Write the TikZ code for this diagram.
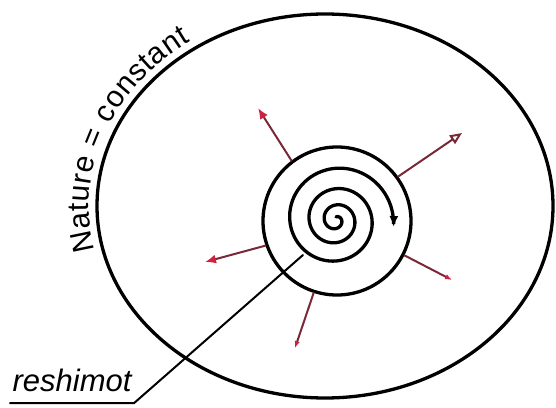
\documentclass[tikz,border=0pt]{standalone}
\usepackage{fontspec}
\setsansfont{Liberation Sans}
\usetikzlibrary{arrows.meta,decorations.text}
\definecolor{rojoraya}{RGB}{120,40,55}
\definecolor{rojopunta}{RGB}{205,35,65}

\begin{document}
\begin{tikzpicture}[x=1pt,y=1pt,line width=3.3pt,line cap=round,
    rayo/.style={line width=2pt,draw=rojoraya},
    tiplleno/.style={-{Latex[length=11pt,width=9pt,color=rojopunta]}},
    tipabierto/.style={-{Triangle[open,length=12pt,width=10pt]}},
    tipchico/.style={-{Latex[length=7pt,width=5.5pt,color=rojopunta]}}]
  \useasboundingbox (0,0) rectangle (556,407);
  % naturaleza constante
  \coordinate (centro) at (325,201);
  \draw (centro) ellipse[x radius=228pt,y radius=192pt];
  \path[decorate,decoration={text along path,raise=8pt,
      text={|\sffamily\fontsize{30}{36}\selectfont|Nature = constant}}]
    ([shift={(centro)}]193:228pt and 192pt) arc[start angle=193,end angle=105,x radius=228pt,y radius=192pt];
  % anillo y espiral
  \node[draw,circle,minimum size=148pt,inner sep=0pt] (anillo) at (337,186) {};
  \draw[-{Latex[length=11pt,width=9pt]},shift={(336,187)}]
    plot[domain=0:1177,samples=260,smooth,variable=\t]
    ({(3+2.5*\t/90+0.13*(\t/90)^2)*cos(90-\t)},{(3+2.5*\t/90+0.13*(\t/90)^2)*sin(90-\t)});
  % rayos hacia fuera
  \coordinate (r1) at (258,299);
  \coordinate (r2) at (462,274);
  \coordinate (r3) at (205,145);
  \coordinate (r4) at (452,127);
  \coordinate (r5) at (295,59);
  \draw[rayo,tiplleno] (anillo.127) -- (r1);
  \draw[rayo,tipabierto] (anillo.36) -- (r2);
  \draw[rayo,tiplleno] (anillo.199) -- (r3);
  \draw[rayo,tipchico] (anillo.-27) -- (r4);
  \draw[rayo,tipchico] (anillo.252) -- (r5);
  % reshimot
  \coordinate (semilla) at (303,152);
  \node[anchor=south west,inner xsep=1pt,inner ysep=10pt,font=\sffamily\itshape\fontsize{31}{36}\selectfont] (reshimot) at (10,4) {reshimot};
  \draw[line width=2pt] (semilla) -- (reshimot.south east) -- (reshimot.south west);
\end{tikzpicture}
\end{document}
